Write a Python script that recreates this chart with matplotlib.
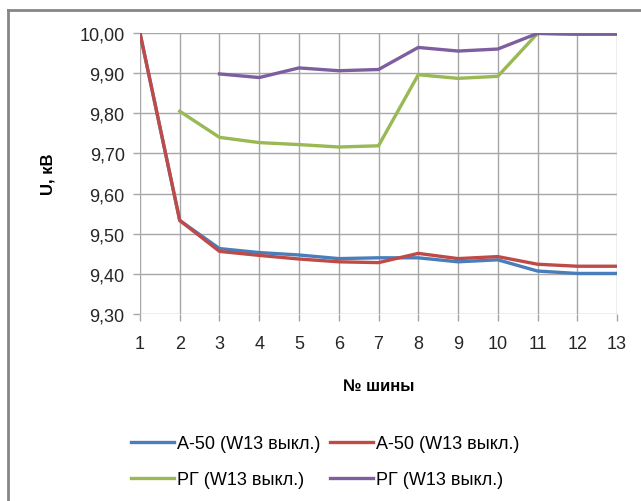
import matplotlib.pyplot as plt
from matplotlib.lines import Line2D

plt.rcParams['font.family'] = ['Liberation Sans', 'DejaVu Sans']

buses = list(range(1, 14))
a50_blue = [10.00, 9.533, 9.463, 9.453, 9.447, 9.438, 9.440, 9.440, 9.430, 9.435, 9.407, 9.401, 9.401]
a50_red = [10.00, 9.533, 9.456, 9.446, 9.437, 9.430, 9.428, 9.451, 9.438, 9.443, 9.424, 9.419, 9.419]
rg_green_x = list(range(2, 14))
rg_green = [9.805, 9.740, 9.727, 9.722, 9.716, 9.719, 9.896, 9.887, 9.892, 9.999, 9.997, 9.997]
rg_purple_x = list(range(3, 14))
rg_purple = [9.898, 9.889, 9.913, 9.906, 9.909, 9.964, 9.955, 9.960, 9.999, 9.997, 9.997]

labels = ['А-50 (W13 выкл.)', 'А-50 (W13 выкл.)', 'РГ (W13 выкл.)', 'РГ (W13 выкл.)']
colors = ['#4a7ebb', '#be4b48', '#98b954', '#7d5fa0']

fig = plt.figure(figsize=(6.41, 5.02), dpi=100)
ax = fig.add_axes([0.2184, 0.3725, 0.7442, 0.5598])

lw = 2.4
l1, = ax.plot(buses, a50_blue, color=colors[0], lw=lw, label=labels[0])
l2, = ax.plot(buses, a50_red, color=colors[1], lw=lw, label=labels[1])
l3, = ax.plot(rg_green_x, rg_green, color=colors[2], lw=lw, label=labels[2])
l4, = ax.plot(rg_purple_x, rg_purple, color=colors[3], lw=lw, label=labels[3])

ax.set_xlim(1, 13)
ax.set_ylim(9.30, 10.00)
ax.set_xticks(buses)
yt = [9.30 + 0.1 * i for i in range(8)]
ax.set_yticks(yt)
ax.set_yticklabels([f'{v:.2f}'.replace('.', ',') for v in yt])

ax.grid(True, color='#a6a6a6', lw=1)
for s in ax.spines.values():
    s.set_visible(False)
ax.tick_params(direction='out', length=5, width=1, color='#a6a6a6',
               labelsize=13, labelcolor='#262626')
ax.tick_params(axis='y', pad=6)
ax.tick_params(axis='x', pad=10)
ax.set_axisbelow(True)

ax.set_ylabel('U, кВ', fontsize=12, fontweight='bold', labelpad=17)
ax.set_xlabel('№ шины', fontsize=12, fontweight='bold', labelpad=19)

# row-wise legend order: blue, red / green, purple
ax.legend([l1, l3, l2, l4], [labels[0], labels[2], labels[1], labels[3]],
          loc='center', bbox_to_anchor=(0.507, 0.078), bbox_transform=fig.transFigure,
          ncol=2, frameon=False, fontsize=13, handlelength=2.4, handletextpad=0.15,
          columnspacing=0.5, labelspacing=1.05)

# chart area border (left and top only)
fig.add_artist(Line2D([8 / 641, 8 / 641], [0, 1 - 10.5 / 502], transform=fig.transFigure,
                      color='#868686', lw=2))
fig.add_artist(Line2D([8 / 641, 1], [1 - 10.5 / 502, 1 - 10.5 / 502], transform=fig.transFigure,
                      color='#868686', lw=2))

fig.savefig('out.png', dpi=100)
